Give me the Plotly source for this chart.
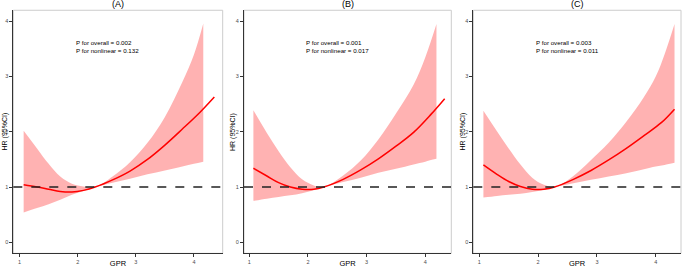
import plotly.graph_objects as go

# ---------------- data ----------------
panel_titles = ["(A)", "(B)", "(C)"]
p_overall = ["P for overall = 0.002", "P for overall = 0.001", "P for overall = 0.003"]
p_nonlinear = ["P for nonlinear = 0.132", "P for nonlinear = 0.017", "P for nonlinear = 0.011"]
x_ticks = [1, 2, 3, 4]
y_ticks = [0, 1, 2, 3, 4]

# Panel A
ci_x_A = [1.07, 1.3, 1.5, 1.7, 1.9, 2.1, 2.3, 2.6, 2.9, 3.2, 3.5, 3.8, 4.0, 4.16]
ci_hi_A = [2.02, 1.70, 1.42, 1.19, 1.06, 1.01, 1.0, 1.19, 1.45, 1.80, 2.27, 2.90, 3.40, 3.96]
ci_lo_A = [0.54, 0.62, 0.69, 0.77, 0.86, 0.93, 1.0, 1.08, 1.15, 1.23, 1.30, 1.37, 1.42, 1.46]
hr_x_A = [1.07, 1.3, 1.5, 1.7, 1.9, 2.1, 2.3, 2.6, 2.9, 3.2, 3.5, 3.8, 4.1, 4.35]
hr_A = [1.04, 1.00, 0.96, 0.92, 0.91, 0.94, 1.0, 1.13, 1.29, 1.50, 1.76, 2.05, 2.35, 2.63]

# Panel B
ci_x_B = [1.07, 1.3, 1.5, 1.7, 1.9, 2.1, 2.27, 2.6, 2.9, 3.2, 3.5, 3.8, 4.0, 4.19]
ci_hi_B = [2.39, 1.98, 1.65, 1.36, 1.14, 1.03, 1.0, 1.21, 1.48, 1.86, 2.33, 2.85, 3.35, 3.95]
ci_lo_B = [0.75, 0.79, 0.82, 0.85, 0.89, 0.94, 1.0, 1.09, 1.17, 1.26, 1.33, 1.41, 1.46, 1.51]
hr_x_B = [1.07, 1.3, 1.5, 1.7, 1.9, 2.1, 2.27, 2.6, 2.9, 3.2, 3.5, 3.8, 4.1, 4.33]
hr_B = [1.34, 1.20, 1.08, 1.00, 0.96, 0.96, 1.0, 1.14, 1.31, 1.51, 1.74, 1.99, 2.32, 2.60]

# Panel C
ci_x_C = [1.07, 1.3, 1.5, 1.7, 1.9, 2.1, 2.28, 2.6, 2.9, 3.2, 3.5, 3.8, 4.0, 4.15, 4.32]
ci_hi_C = [2.38, 2.01, 1.70, 1.41, 1.17, 1.04, 1.0, 1.20, 1.49, 1.80, 2.18, 2.63, 3.00, 3.40, 3.95]
ci_lo_C = [0.81, 0.84, 0.86, 0.88, 0.91, 0.95, 1.0, 1.07, 1.13, 1.19, 1.25, 1.32, 1.37, 1.40, 1.44]
hr_x_C = [1.07, 1.3, 1.5, 1.7, 1.9, 2.1, 2.28, 2.6, 2.9, 3.2, 3.5, 3.8, 4.1, 4.32]
hr_C = [1.40, 1.23, 1.10, 1.01, 0.96, 0.96, 1.0, 1.14, 1.30, 1.49, 1.70, 1.93, 2.17, 2.41]

panels = [
    (ci_x_A, ci_hi_A, ci_lo_A, hr_x_A, hr_A),
    (ci_x_B, ci_hi_B, ci_lo_B, hr_x_B, hr_B),
    (ci_x_C, ci_hi_C, ci_lo_C, hr_x_C, hr_C),
]

# ---------------- layout geometry (pixels) ----------------
W, H = 685, 268
x_dom_px = [(13.3, 222.7), (244.0, 451.3), (473.3, 681.0)]
x_ranges = [(0.892, 4.494), (0.910, 4.443), (0.898, 4.430)]
y_range = (-0.2, 4.2)
y_dom_px = (10.25, 253.35)
ann_x_px = [75, 305, 535]
ylab_x_px = [4.5, 233, 462.5]

FONT = "Liberation Sans, Arial, sans-serif"
fig = go.Figure()
layout = dict(
    width=W, height=H, margin=dict(l=0, r=0, t=0, b=0),
    paper_bgcolor="white", plot_bgcolor="white", showlegend=False,
    font=dict(family=FONT, color="black"),
)
annotations = []
shapes = []

for i, (cx, chi, clo, hx, hy) in enumerate(panels):
    sfx = "" if i == 0 else str(i + 1)
    xa, ya = "x" + sfx, "y" + sfx
    fig.add_trace(go.Scatter(x=cx, y=clo, mode="lines", line=dict(width=0, shape="spline"),
                             xaxis=xa, yaxis=ya, hoverinfo="skip"))
    fig.add_trace(go.Scatter(x=cx, y=chi, mode="lines", line=dict(width=0, shape="spline"),
                             fill="tonexty", fillcolor="rgba(255,0,0,0.3)",
                             xaxis=xa, yaxis=ya, hoverinfo="skip"))
    fig.add_trace(go.Scatter(x=hx, y=hy, mode="lines", line=dict(color="#FF0000", width=1.5, shape="spline"),
                             xaxis=xa, yaxis=ya))
    x0, x1 = x_dom_px[i]
    common_ax = dict(showgrid=False, zeroline=False, showline=True, linecolor="#333333", linewidth=1,
                     ticks="outside", ticklen=3, tickcolor="#333333", tickwidth=0.8,
                     tickfont=dict(size=5.5, color="#4d4d4d", family=FONT), automargin=False)
    layout["xaxis" + sfx] = dict(common_ax, domain=[x0 / W, x1 / W], range=list(x_ranges[i]),
                                 tickvals=x_ticks, anchor=ya,
                                 title=dict(text="GPR", font=dict(size=7.5, family=FONT, color="black"),
                                            standoff=1))
    layout["yaxis" + sfx] = dict(common_ax, domain=[1 - y_dom_px[1] / H, 1 - y_dom_px[0] / H],
                                 range=list(y_range), tickvals=y_ticks, anchor=xa)
    shapes.append(dict(type="rect", xref=xa + " domain", yref=ya + " domain", x0=0, x1=1, y0=0, y1=1,
                       line=dict(color="#cccccc", width=1), layer="below"))
    shapes.append(dict(type="line", xref=xa + " domain", yref=ya, x0=0, x1=1, y0=1, y1=1,
                       line=dict(color="#222222", width=1.5, dash="dash"), layer="above"))
    annotations.append(dict(text=p_overall[i] + "<br>" + p_nonlinear[i], xref="paper", yref="paper",
                            x=ann_x_px[i] / W, y=1 - 46.3 / H, xanchor="left", yanchor="middle",
                            showarrow=False, align="left", borderpad=0,
                            font=dict(size=6.2, color="black", family=FONT)))
    annotations.append(dict(text=panel_titles[i], xref="paper", yref="paper", x=(x0 + x1) / 2 / W,
                            y=1 + 3 / H, xanchor="center", yanchor="top", showarrow=False,
                            font=dict(size=9, color="black", family=FONT)))
    annotations.append(dict(text="HR (95%CI)", xref="paper", yref="paper", x=ylab_x_px[i] / W,
                            y=1 - 132 / H, xanchor="center", yanchor="middle", showarrow=False,
                            textangle=-90, font=dict(size=7, color="black", family=FONT)))

layout["annotations"] = annotations
layout["shapes"] = shapes
fig.update_layout(**layout)
fig.write_html("out.html", config={"displayModeBar": False},
               post_script="document.body.style.margin='0';document.body.style.overflow='hidden';")
